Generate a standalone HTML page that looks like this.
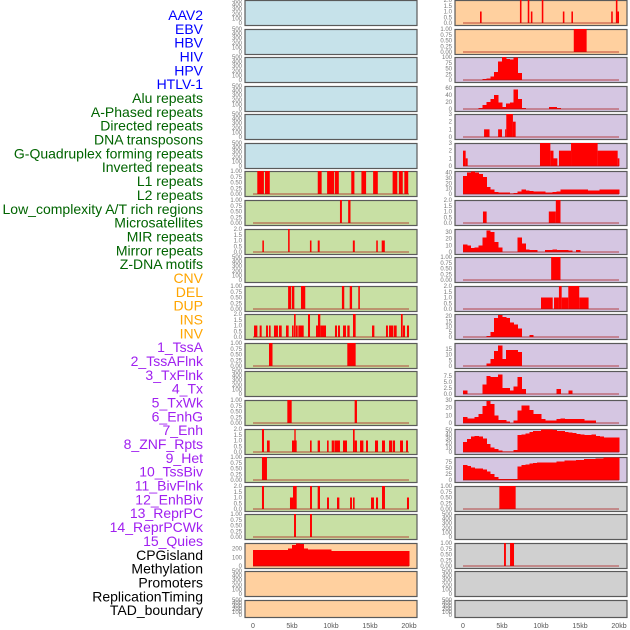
<!DOCTYPE html>
<html><head><meta charset="utf-8"><style>
html,body{margin:0;padding:0;background:#fff;width:630px;height:630px;overflow:hidden}
svg{display:block;font-family:"Liberation Sans",sans-serif}
</style></head><body>
<svg id="chart" width="630" height="630" viewBox="0 0 630 630" xmlns="http://www.w3.org/2000/svg"></svg>
<script>
// ---- track labels ----
const trackLabels = ["AAV2","EBV","HBV","HIV","HPV","HTLV-1","Alu repeats","A-Phased repeats","Directed repeats","DNA transposons","G-Quadruplex forming repeats","Inverted repeats","L1 repeats","L2 repeats","Low_complexity A/T rich regions","Microsatellites","MIR repeats","Mirror repeats","Z-DNA motifs","CNV","DEL","DUP","INS","INV","1_TssA","2_TssAFlnk","3_TxFlnk","4_Tx","5_TxWk","6_EnhG","7_Enh","8_ZNF_Rpts","9_Het","10_TssBiv","11_BivFlnk","12_EnhBiv","13_ReprPC","14_ReprPCWk","15_Quies","CPGisland","Methylation","Promoters","ReplicationTiming","TAD_boundary"];
const labelGroups = [6,13,5,15,5];
const xTickValues = [0,5,10,15,20];
const xTickLabels = ["0","5kb","10kb","15kb","20kb"];
const ticks1 = ["0.00","0.25","0.50","0.75","1.00"];
const ticks2 = ["0.0","0.5","1.0","1.5","2.0"];
const ticks3 = ["0","1","2","3"];
const ticks500 = ["0","100","200","300","400","500"];
// ---- segment data [startKb, endKb, value] ----
const segL6 = [[0.55,1.4,1],[1.54,2.15,1],[8.3,8.8,1],[9.5,10.4,1],[10.5,11.0,1],[12.6,13.0,1],[13.9,14.5,1],[15.4,16.0,1],[17.9,18.5,1],[18.7,19.2,1],[19.4,19.9,1]];
const segL7 = [[11.15,11.4,1],[12.2,12.5,1]];
const segL8 = [[1.2,1.4,1],[4.5,4.7,2],[7.3,7.5,1],[8.3,8.55,1],[12.8,13.05,1],[15.8,16.0,1],[16.5,16.9,1]];
const segL10 = [[4.5,4.9,1],[5.0,5.3,1],[6.15,6.7,1],[11.4,11.7,1],[12.4,12.7,1],[13.5,13.7,1]];
const segL11 = [[0.13,0.56,1],[0.85,1.11,1],[1.67,1.92,1],[2.05,2.26,1],[2.69,3.2,1],[3.33,3.68,1],[4.23,4.57,1],[5.0,5.21,1],[5.26,5.47,2],[5.51,5.73,1],[5.81,6.5,1],[7.05,7.31,2],[8.08,8.33,1],[8.33,8.63,2],[8.63,9.36,1],[10.51,10.77,1],[10.9,11.15,1],[11.54,11.92,1],[12.09,12.39,1],[12.82,13.16,2],[15.26,15.56,1],[17.05,17.3,1],[17.44,18.0,1],[18.08,18.42,1],[18.97,19.19,2],[19.23,19.49,1],[19.74,20.0,1]];
const segL12 = [[2.05,2.5,1],[12.09,13.16,1]];
const segL14 = [[4.4,4.96,1],[13.03,13.33,1]];
const segL15 = [[1.15,1.41,2],[1.79,2.14,1],[5.0,5.6,1],[5.3,5.47,2],[7.31,7.52,1],[8.29,8.59,1],[9.49,9.7,1],[10.09,10.38,1],[10.43,11.15,1],[11.54,12.05,1],[12.82,13.03,2],[13.03,13.33,1],[13.72,14.15,1],[14.49,14.74,1],[15.64,16.03,1],[16.54,16.92,1],[17.44,17.86,1],[17.95,18.21,1],[18.85,19.23,1],[19.62,19.87,1]];
const segL16 = [[1.15,1.79,1]];
const segL17 = [[1.15,1.41,2],[4.74,5.13,1],[5.13,5.6,2],[7.31,7.56,2],[8.29,8.59,2],[9.49,9.74,1],[10.77,11.07,1],[12.44,12.69,1],[12.82,13.03,1],[15.13,15.51,1],[15.77,16.03,1],[16.54,16.92,2],[19.74,20.0,1]];
const segL18 = [[5.26,5.51,1],[7.31,7.56,1]];
const segR0 = [[2.18,2.39,1],[7.3,7.5,2],[8.3,8.5,2],[8.7,8.9,1],[10.1,10.3,2],[12.8,13.0,1],[13.9,14.1,1],[19.0,19.2,1],[19.6,19.8,2],[19.8,20.0,1]];
const segR1 = [[14.2,15.85,1]];
const segR4 = [[2.7,3.4,1],[4.5,5.0,1],[5.4,5.55,1],[5.55,6.4,3],[6.4,6.75,2]];
const segR5 = [[0,0.34,2],[0.34,0.6,1],[9.87,11.2,3],[11.2,11.6,2],[11.6,12.1,1],[12.3,13.85,2],[13.85,17.26,3],[17.26,19.83,2],[19.83,20.05,1]];
const segR7 = [[2.56,3.03,1],[11.0,11.9,1],[11.9,12.5,2]];
const segR9 = [[11.3,12.5,1]];
const segR10 = [[10.0,11.5,1],[11.67,12.3,1],[12.3,12.65,2],[12.65,13.5,1],[13.5,14.9,2],[14.9,16.1,1]];
const segR17 = [[4.66,6.75,1]];
const segR19 = [[5.26,5.5,1],[6.03,6.54,1]];
// ---- binned data (0.5kb bins, 0..20kb) ----
const binR2 = [0,0,0,0,0,5,7,16,35,80,100,92,90,98,30,0,0,0,0,0,0,0,0,0,0,0,0,0,0,0,0,0,0,0,0,0,0,0,0,0];
const binR3 = [0,0,0,0,3,12,20,28,40,18,5,15,18,55,28,3,0,0,0,0,0,0,5,5,3,0,0,0,0,0,0,0,0,0,0,0,0,0,0,0];
const binR6 = [34,40,42,40,37,32,13,8,4,3,3,3,0.5,1.5,5,8,7,6,5,5,5,3,3,4,5,8,8,8,8,8,8,8,7,7,7,8,8,8,8,8];
const binR8 = [11,10,6,7,10,22,32,30,15,7,0,0,0,0,22,13,4,3,3,0,0,3,3,4,3,3,3,2.5,0,3,0,0,0,0,0,0,0,0,0,0];
const binR11 = [0,0,0,0,0,0,1,5,18,21,19,18,14,12,8,0,0,2,0,0,0,0,0,0,0,0,0,0,0,0,0,0,0,0,0,0,0,0,0,0];
const binR12 = [0,0,0,0,0,0,2,6,13,18,6,14,14,14,12,0,0,0,0,0,0,0,0,0,0,0,0,0,0,0,0,0,0,0,0,0,0,0,0,0];
const binR13 = [1.5,0,0,0,0,4,7.5,7,7,8,2.5,2.5,1.5,3,7,2,0,0,0,0,0,0,0,0,2,0,0,1.5,0,0,0,0,0,0,0,0,0,0,0,0];
const binR14 = [8,6,6,8,12,22,29,25,10,4,4,2,0,3,16,23,23,17,12,12,5,3,3,3,5,6,5,5,5,5,5,3,3,3,0,0,0,0,0,0];
const binR15 = [23,29,35,36,35,30,18,10,7,3,1,1,1,5,38,40,42,45,47,47,51,51,51,50,48,47,45,44,43,41,40,39,39,40,36,35,33,33,33,33];
const binR16 = [62,58,52,47,47,44,35,25,12,5,5,5,5,5,55,61,65,68,70,73,72,72,72,72,76,76,80,80,80,83,83,86,86,86,89,89,92,92,92,92];
const binCpg = [185,185,185,185,185,185,185,185,185,200,240,262,255,200,190,190,190,190,190,190,175,175,175,175,175,175,175,175,175,175,175,175,175,175,175,175,175,175,175,175];

const BLUE="#c6e2ea",GREEN="#c8e0a4",ORANGE="#ffd09f",PURPLE="#d5c6e2",GREY="#d0d0d0";
const leftPanels = [
 {bg:BLUE},{bg:BLUE},{bg:BLUE},{bg:BLUE},{bg:BLUE},{bg:BLUE},
 {bg:GREEN,seg:segL6,max:1,t:ticks1},{bg:GREEN,seg:segL7,max:1,t:ticks1},{bg:GREEN,seg:segL8,max:2,t:ticks2},
 {bg:GREEN},{bg:GREEN,seg:segL10,max:1,t:ticks1},{bg:GREEN,seg:segL11,max:2,t:ticks2},
 {bg:GREEN,seg:segL12,max:1,t:ticks1},{bg:GREEN},{bg:GREEN,seg:segL14,max:1,t:ticks1},
 {bg:GREEN,seg:segL15,max:2,t:ticks2},{bg:GREEN,seg:segL16,max:1,t:ticks1},{bg:GREEN,seg:segL17,max:2,t:ticks2},
 {bg:GREEN,seg:segL18,max:1,t:ticks1},
 {bg:ORANGE,bin:binCpg,max:265,t:["0","100","200"]},{bg:ORANGE},{bg:ORANGE}
];
const rightPanels = [
 {bg:ORANGE,seg:segR0,max:2,t:ticks2},{bg:ORANGE,seg:segR1,max:1,t:ticks1},
 {bg:PURPLE,bin:binR2,max:100,t:["0","25","50","75","100"]},
 {bg:PURPLE,bin:binR3,max:65,t:["0","20","40","60"]},
 {bg:PURPLE,seg:segR4,max:3,t:ticks3},{bg:PURPLE,seg:segR5,max:3,t:ticks3},
 {bg:PURPLE,bin:binR6,max:43,t:["0","10","20","30","40"]},
 {bg:PURPLE,seg:segR7,max:2,t:ticks2},
 {bg:PURPLE,bin:binR8,max:34.5,t:["0","10","20","30"]},
 {bg:PURPLE,seg:segR9,max:1,t:ticks1},{bg:PURPLE,seg:segR10,max:2,t:ticks2},
 {bg:PURPLE,bin:binR11,max:22,t:["0","5","10","15","20"]},
 {bg:PURPLE,bin:binR12,max:20,t:["0","5","10","15"]},
 {bg:PURPLE,bin:binR13,max:9.5,t:["0.0","2.5","5.0","7.5"]},
 {bg:PURPLE,bin:binR14,max:30,t:["0","10","20","30"]},
 {bg:PURPLE,bin:binR15,max:52,t:["0","10","20","30","40","50"]},
 {bg:PURPLE,bin:binR16,max:95,t:["0","25","50","75"]},
 {bg:GREY,seg:segR17,max:1,t:ticks1},{bg:GREY},{bg:GREY,seg:segR19,max:1,t:ticks1},{bg:GREY},{bg:GREY}
];

const NS="http://www.w3.org/2000/svg";
const svg=document.getElementById("chart");
function mk(tag,attrs,parent){const e=document.createElementNS(NS,tag);for(const k in attrs)e.setAttribute(k,attrs[k]);(parent||svg).appendChild(e);return e;}
const groupColors=["#0000ff","#006400","#ffa500","#a020f0","#000000"];
let li=0;
labelGroups.forEach((n,g)=>{for(let k=0;k<n;k++){const i=li++;
 const t=mk("text",{x:203,y:15+i*13.84+5,"text-anchor":"end","font-size":"14",fill:groupColors[g]});
 
 
 t.textContent=trackLabels[i];}});

function xScale(col,kb){return (col?463:253)+kb*7.8;}
function yScale(top,h,max,v){return top+(h-2)*(1-v/max);}

function drawPanel(p,col,i){
 const left=col?455:245, top=Math.round(i*28.57), h=(i===21)?17:25, w=172;
 const g=mk("g",{});
 
 
 const r=mk("rect",{x:left,y:top+0.5,width:w,height:h,fill:p.bg,stroke:"#5a5a5a","stroke-width":"1.2"},g);
 
 
 const ticks=p.t||ticks500, max=p.max||500;
 const tv=ticks.map(Number);
 tv.forEach((v,k)=>{
  const tx=mk("text",{x:left-3,y:yScale(top,h,max,v)+2,"text-anchor":"end","font-size":"6",fill:"#777"},g);
  
  
  tx.textContent=ticks[k];
 });
 const base=yScale(top,h,max,0);
 if(p.seg){
  p.seg.forEach(s=>{
   const y=yScale(top,h,max,s[2]);
   const b=mk("rect",{x:xScale(col,s[0]),y:y,width:Math.max(1,xScale(col,s[1])-xScale(col,s[0])),height:base-y,fill:"#ff0000"},g);
   
   
  });
 }
 if(p.bin){
  p.bin.forEach((v,k)=>{
   if(v<=0)return;
   const vv=Math.min(v,max);
   const y=yScale(top,h,max,vv);
   const b=mk("rect",{x:xScale(col,k*0.5),y:y,width:4.3,height:base-y,fill:"#ff0000","shape-rendering":"crispEdges"},g);
   
   
  });
 }
 if(p.seg||p.bin){
  const ln=mk("line",{x1:xScale(col,0),x2:xScale(col,20),y1:base,y2:base,stroke:"rgba(170,20,20,0.5)","stroke-width":"1.6"},g);
  
  
 }
}
leftPanels.forEach((p,i)=>drawPanel(p,0,i));
rightPanels.forEach((p,i)=>drawPanel(p,1,i));
[0,1].forEach(col=>{
 xTickValues.forEach((v,k)=>{
  const t=mk("text",{x:xScale(col,v),y:628,"text-anchor":"middle","font-size":"7",fill:"#555"});
  
  
  t.textContent=xTickLabels[k];
 });
});
</script>
</body></html>
